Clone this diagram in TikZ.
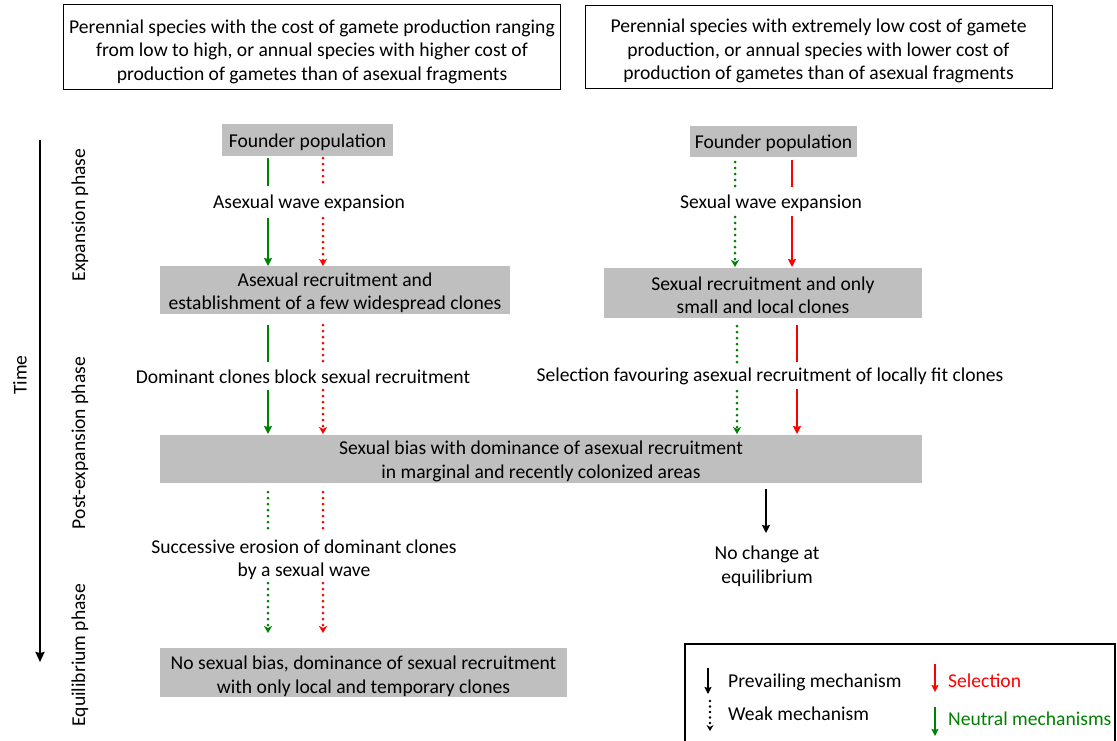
\documentclass[tikz,border=0pt]{standalone}
\usepackage{fontspec}
\setmainfont{Carlito}
\usetikzlibrary{arrows.meta}
\definecolor{gbox}{RGB}{191,191,191}
\definecolor{dgreen}{RGB}{0,128,0}
\definecolor{lred}{RGB}{255,0,0}
\begin{document}
\begin{tikzpicture}[x=1pt,y=-1pt,
  txt/.style={font=\fontsize{19.6}{23.5}\selectfont, align=center, inner sep=0pt},
  graybox/.style={fill=gbox, draw=none, inner sep=0pt},
  topbox/.style={draw=black, line width=1pt, inner sep=0pt},
  solidline/.style={line width=2.6pt},
  solidarrow/.style={line width=2.6pt, -{Stealth[length=8pt,width=8pt,inset=1pt]}},
  dotline/.style={line width=3pt, line cap=round, dash pattern=on 0pt off 6pt},
  dotarrow/.style={line width=3pt, line cap=round, dash pattern=on 0pt off 6pt, -{Stealth[length=7pt,width=8pt,inset=2pt]}},
]
\useasboundingbox (0,0) rectangle (1117,740);
\clip (0,0) rectangle (1117,740);
\fill[white] (0,0) rectangle (1117,740);

% top boxes
\node[topbox, minimum width=497pt, minimum height=85pt] (top1) at (312,47) {};
\node[txt] (top1t) at (312,51.5)
  {Perennial species with the cost of gamete production ranging\\from low to high, or annual species with higher cost of\\production of gametes than of asexual fragments};
\node[topbox, minimum width=467pt, minimum height=83pt] (top2) at (818.5,46.5) {};
\node[txt] (top2t) at (818.5,51)
  {Perennial species with extremely low cost of gamete\\production, or annual species with lower cost of\\production of gametes than of asexual fragments};

% gray boxes
\node[graybox, minimum width=171pt, minimum height=32pt] (fpL) at (307.5,140) {};
\node[txt] (fpLt) at (307.5,142) {Founder population};
\node[graybox, minimum width=350pt, minimum height=48pt] (arL) at (335,290) {};
\node[txt] (arLt) at (335,293) {Asexual recruitment and\\establishment of a few widespread clones};
\node[graybox, minimum width=167pt, minimum height=31pt] (fpR) at (773.5,141.5) {};
\node[txt] (fpRt) at (773.5,143.5) {Founder population};
\node[graybox, minimum width=318pt, minimum height=50pt] (srR) at (763,293) {};
\node[txt] (srRt) at (763,295.5) {Sexual recruitment and only\\small and local clones};
\node[graybox, minimum width=762pt, minimum height=48pt] (big) at (541,459) {};
\node[txt] (bigt) at (541,461.5) {Sexual bias with dominance of asexual recruitment\\in marginal and recently colonized areas};
\node[graybox, minimum width=407pt, minimum height=49pt] (eqL) at (363.5,672.5) {};
\node[txt] (eqLt) at (363.5,676.5) {No sexual bias, dominance of sexual recruitment\\with only local and temporary clones};

% labels
\node[txt] (lab1) at (309,203) {Asexual wave expansion};
\node[txt] (lab2) at (303,376.5) {Dominant clones block sexual recruitment};
\node[txt] (lab3) at (771,203) {Sexual wave expansion};
\node[txt] (lab4) at (770,376.5) {Selection favouring asexual recruitment of locally fit clones};
\node[txt] (lab5) at (304,560) {Successive erosion of dominant clones\\by a sexual wave};
\node[txt] (lab6) at (767,566.5) {No change at\\equilibrium};

% coordinates: left column
\coordinate (g1a) at (268,158); \coordinate (g1b) at (268,186);
\coordinate (g1c) at (268,218); \coordinate (g1d) at (268,266);
\coordinate (r1a) at (323,158); \coordinate (r1b) at (323,186);
\coordinate (r1c) at (323,218); \coordinate (r1d) at (323,266);
\coordinate (g2a) at (268,325); \coordinate (g2b) at (268,362);
\coordinate (g2c) at (268,390); \coordinate (g2d) at (268,434);
\coordinate (r2a) at (323,325); \coordinate (r2b) at (323,362);
\coordinate (r2c) at (323,390); \coordinate (r2d) at (323,434);
\coordinate (g3a) at (268,492); \coordinate (g3b) at (268,529);
\coordinate (g3c) at (268,583); \coordinate (g3d) at (268,633);
\coordinate (r3a) at (323,492); \coordinate (r3b) at (323,529);
\coordinate (r3c) at (323,583); \coordinate (r3d) at (323,633);
% right column
\coordinate (G1a) at (735,162); \coordinate (G1b) at (735,188);
\coordinate (G1c) at (735,217); \coordinate (G1d) at (735,267);
\coordinate (R1a) at (792,160); \coordinate (R1b) at (792,187);
\coordinate (R1c) at (792,216); \coordinate (R1d) at (792,267);
\coordinate (G2a) at (737,326); \coordinate (G2b) at (737,362);
\coordinate (G2c) at (737,391); \coordinate (G2d) at (737,434);
\coordinate (R2a) at (797,325); \coordinate (R2b) at (797,362);
\coordinate (R2c) at (797,389); \coordinate (R2d) at (797,434);
\coordinate (Ka) at (766,489); \coordinate (Kb) at (766,533);

% left arrows
\draw[solidline, dgreen] (g1a) -- (g1b);
\draw[solidarrow, dgreen] (g1c) -- (g1d);
\draw[dotline, lred] (r1a) -- (r1b);
\draw[dotarrow, lred] (r1c) -- (r1d);
\draw[solidline, dgreen] (g2a) -- (g2b);
\draw[solidarrow, dgreen] (g2c) -- (g2d);
\draw[dotline, lred] (r2a) -- (r2b);
\draw[dotarrow, lred] (r2c) -- (r2d);
\draw[dotline, dgreen] (g3a) -- (g3b);
\draw[dotarrow, dgreen] (g3c) -- (g3d);
\draw[dotline, lred] (r3a) -- (r3b);
\draw[dotarrow, lred] (r3c) -- (r3d);
% right arrows
\draw[dotline, dgreen] (G1a) -- (G1b);
\draw[dotarrow, dgreen] (G1c) -- (G1d);
\draw[solidline, lred] (R1a) -- (R1b);
\draw[solidarrow, lred] (R1c) -- (R1d);
\draw[dotline, dgreen] (G2a) -- (G2b);
\draw[dotarrow, dgreen] (G2c) -- (G2d);
\draw[solidline, lred] (R2a) -- (R2b);
\draw[solidarrow, lred] (R2c) -- (R2d);
\draw[line width=2pt, -{Stealth[length=8pt,width=8pt,inset=1pt]}] (Ka) -- (Kb);

% time axis
\coordinate (Ta) at (40,140); \coordinate (Tb) at (40,662);
\draw[line width=2.6pt, -{Stealth[length=10pt,width=9pt,inset=1pt]}] (Ta) -- (Tb);
\node[txt, rotate=90] (time) at (20,375) {Time};
\node[txt, rotate=90] (ph1) at (80,215) {Expansion phase};
\node[txt, rotate=90] (ph2) at (80,443) {Post-expansion phase};
\node[txt, rotate=90] (ph3) at (80,655) {Equilibrium phase};

% legend
\node[draw=black, line width=1.5pt, minimum width=430pt, minimum height=120pt, inner sep=0pt] (leg) at (900,704) {};
\coordinate (La) at (708,668); \coordinate (Lb) at (708,694);
\coordinate (Lc) at (710,701); \coordinate (Ld) at (710,731);
\coordinate (Le) at (935,664); \coordinate (Lf) at (935,692);
\coordinate (Lg) at (935,707); \coordinate (Lh) at (935,736);
\draw[line width=2pt, -{Stealth[length=7pt,width=7pt,inset=1pt]}] (La) -- (Lb);
\draw[line width=2.6pt, line cap=round, dash pattern=on 0pt off 5.5pt, -{Stealth[length=6pt,width=7pt,inset=2pt]}] (Lc) -- (Ld);
\draw[line width=2pt, lred, -{Stealth[length=7pt,width=7pt,inset=1pt]}] (Le) -- (Lf);
\draw[line width=2pt, dgreen, -{Stealth[length=7pt,width=7pt,inset=1pt]}] (Lg) -- (Lh);
\node[txt, anchor=west] (l1) at (728,682) {Prevailing mechanism};
\node[txt, anchor=west] (l2) at (728,714) {Weak mechanism};
\node[txt, anchor=west, text=lred] (l3) at (948,681) {Selection};
\node[txt, anchor=west, text=dgreen] (l4) at (948,719) {Neutral mechanisms};
\end{tikzpicture}
\end{document}
